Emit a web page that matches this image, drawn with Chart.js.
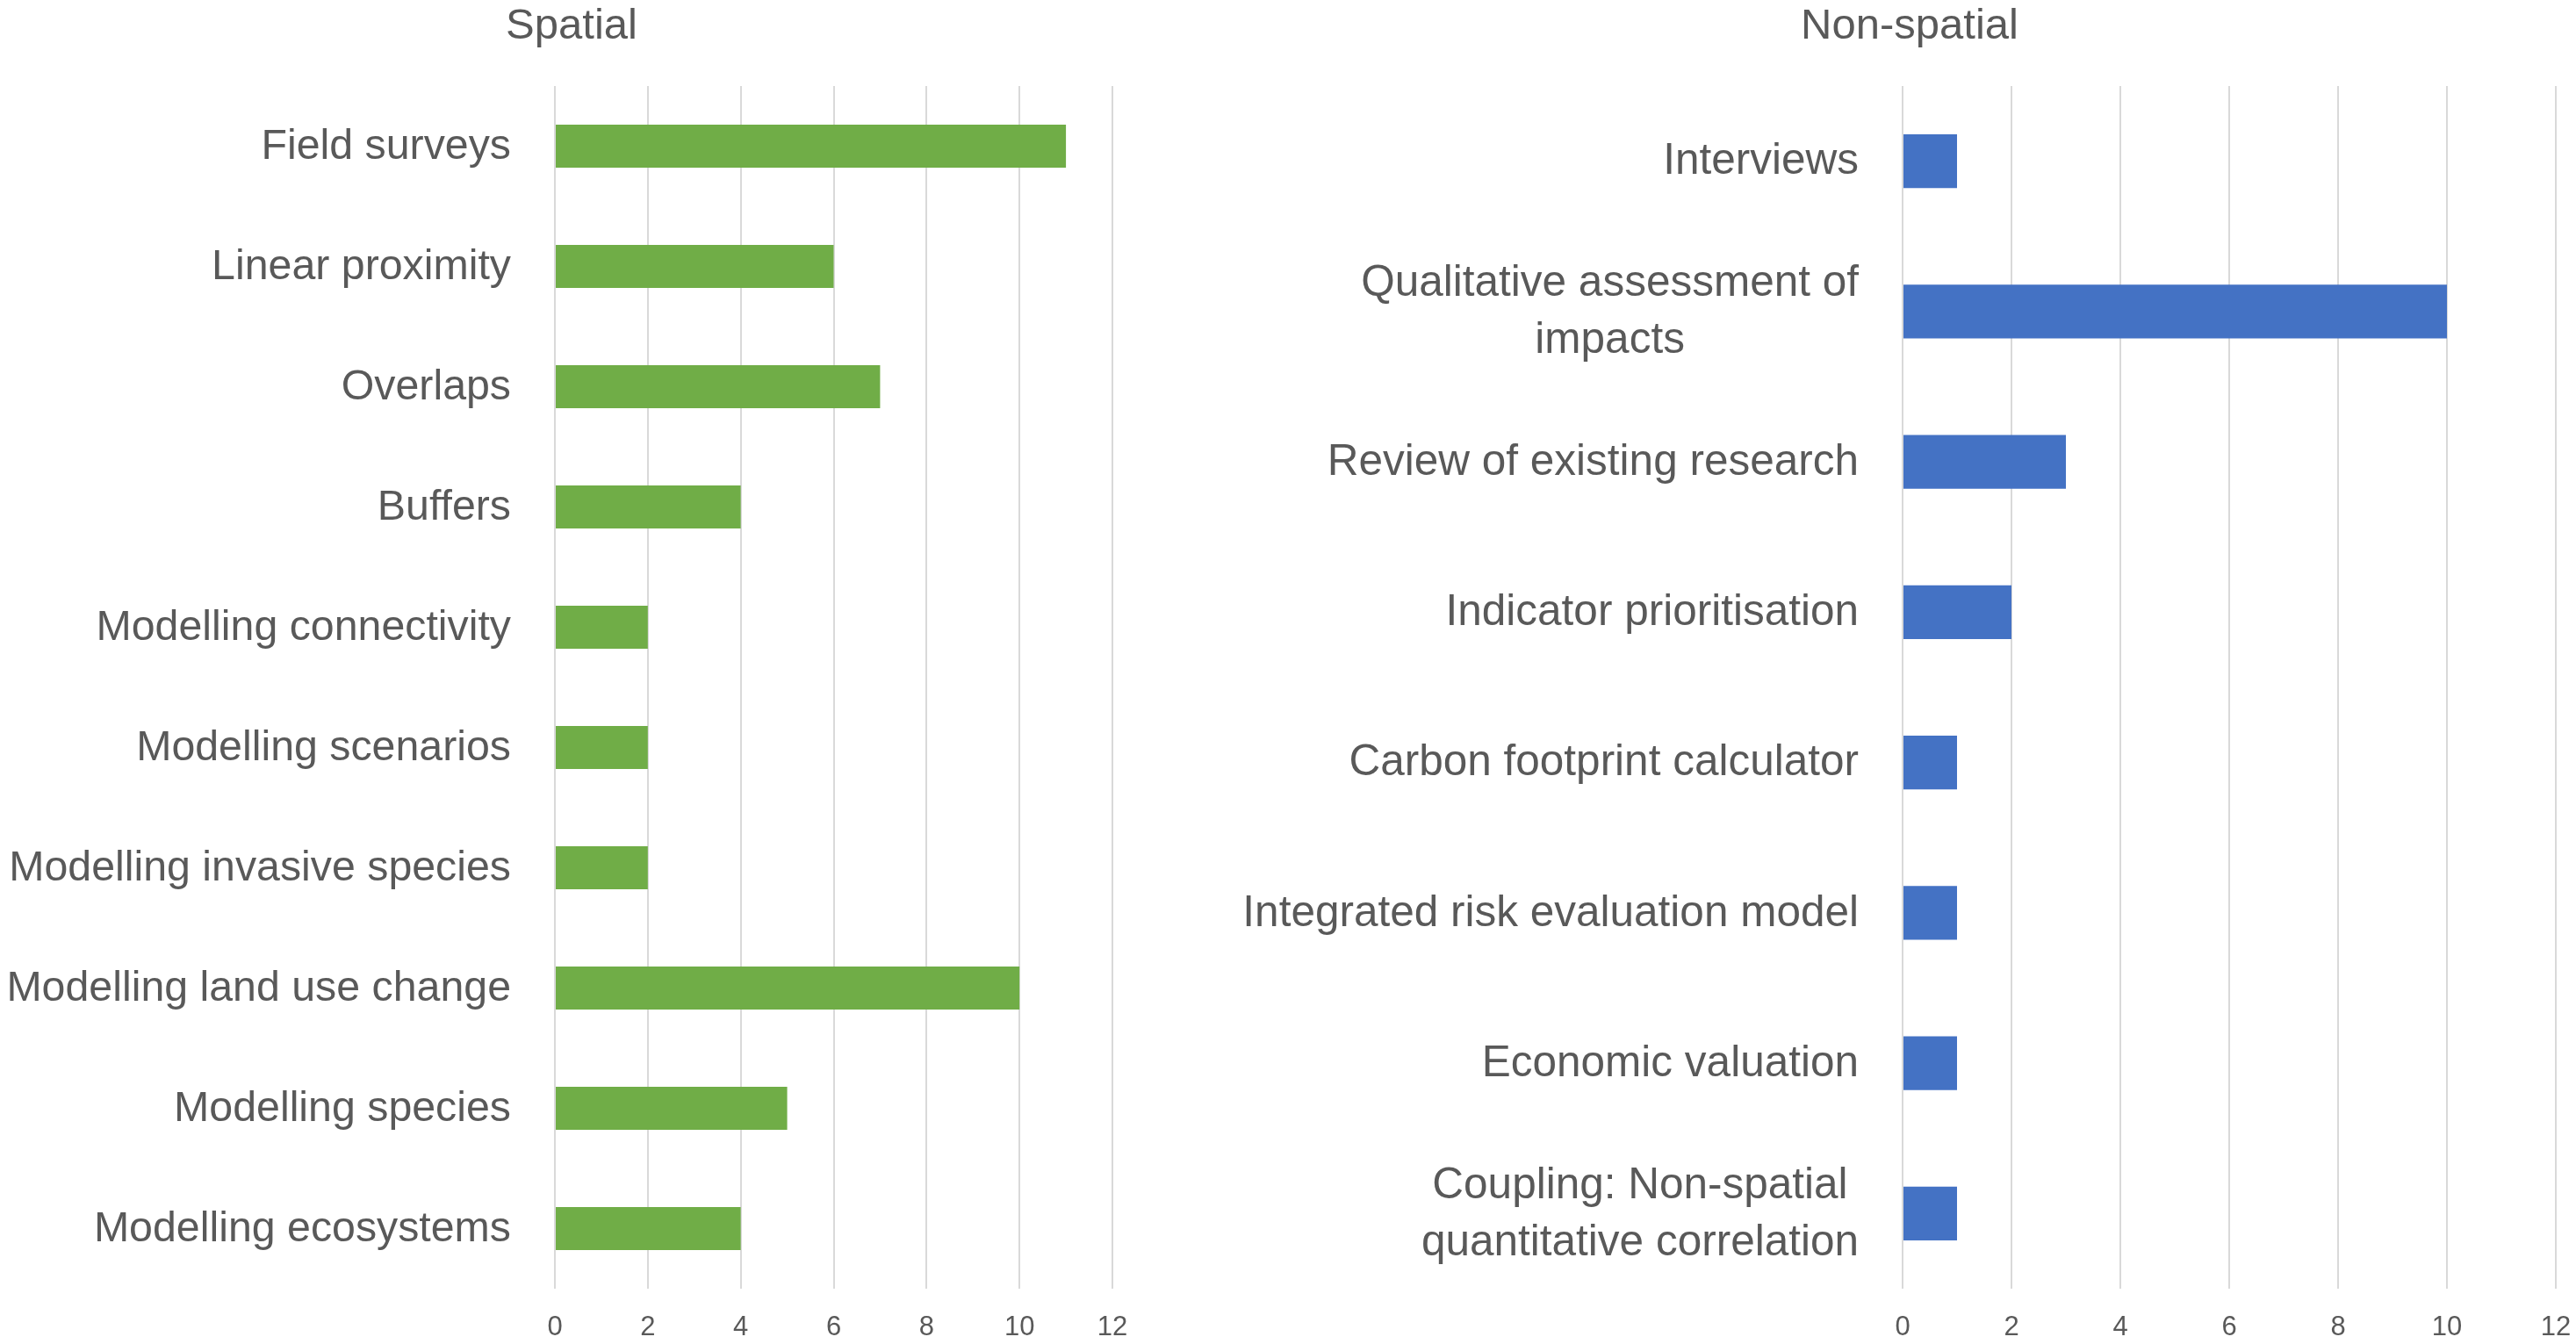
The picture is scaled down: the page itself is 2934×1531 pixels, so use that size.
<!DOCTYPE html>
<html><head><meta charset="utf-8">
<script src="https://cdn.jsdelivr.net/npm/chart.js@4.4.0/dist/chart.umd.min.js"></script>
<style>
html,body{margin:0;padding:0;background:#fff;overflow:hidden;width:2934px;height:1531px;}
canvas{position:absolute;top:0;}
</style></head><body>
<canvas id="left" width="1302" height="1531" style="left:0px;width:1302px;height:1531px"></canvas>
<canvas id="right" width="1534" height="1531" style="left:1400px;width:1534px;height:1531px"></canvas>
<script>
const spatialTitle = 'Spatial';
const spatialCategories = ['Field surveys','Linear proximity','Overlaps','Buffers','Modelling connectivity','Modelling scenarios','Modelling invasive species','Modelling land use change','Modelling species','Modelling ecosystems'];
const spatialValues = [11,6,7,4,2,2,2,10,5,4];

const nonSpatialTitle = 'Non-spatial';
const nonSpatialCategories = ['Interviews',['Qualitative assessment of','impacts'],'Review of existing research','Indicator prioritisation','Carbon footprint calculator','Integrated risk evaluation model','Economic valuation',['Coupling: Non-spatial','quantitative correlation']];
const nonSpatialValues = [1,10,3,2,1,1,1,1];

const xTickValues = [0,2,4,6,8,10,12];

const TEXT = '#595959';
const FONT = "'Liberation Sans', Arial, sans-serif";
const LABEL_LINE = 65;
const LABEL_GAP = 50;

const labelPlugin = {
  id: 'catLabels',
  afterDraw(chart, args, opts) {
    const ys = chart.scales.y;
    const ctx = chart.ctx;
    ctx.save();
    ctx.font = opts.size + 'px ' + FONT;
    ctx.fillStyle = TEXT;
    ctx.textAlign = 'center';
    ctx.textBaseline = 'middle';
    chart.data.labels.forEach((lab, i) => {
      const lines = Array.isArray(lab) ? lab : [lab];
      const maxW = Math.max(...lines.map(l => ctx.measureText(l).width));
      const cx = ys.right - LABEL_GAP - maxW / 2;
      const cy = ys.getPixelForValue(i) + 1;
      lines.forEach((l, j) => {
        ctx.fillText(l, cx, cy + (j - (lines.length - 1) / 2) * LABEL_LINE);
      });
    });
    ctx.restore();
  }
};

function makeChart(id, title, labels, values, color, padL, yWidth, padR, labelSize) {
  return new Chart(document.getElementById(id), {
    type: 'bar',
    data: {
      labels: labels,
      datasets: [{ data: values, backgroundColor: color, borderWidth: 0, barPercentage: 0.357, categoryPercentage: 1 }]
    },
    options: {
      indexAxis: 'y',
      responsive: false,
      devicePixelRatio: 1,
      animation: false,
      layout: { padding: { left: padL, right: padR, top: 0, bottom: 0 } },
      plugins: {
        legend: { display: false },
        tooltip: { enabled: false },
        catLabels: { size: labelSize },
        title: {
          display: true, text: title, color: TEXT,
          font: { family: FONT, size: 49, weight: 'normal', lineHeight: 1.2 },
          padding: { top: 1, bottom: 38.2 }
        }
      },
      scales: {
        x: {
          type: 'linear', position: 'bottom', min: 0, max: 12,
          afterBuildTicks: s => { s.ticks = xTickValues.map(v => ({ value: v })); },
          afterFit: s => { s.height = 63; s.paddingLeft = 0; s.paddingRight = 0; },
          grid: { color: '#d9d9d9', lineWidth: 2, drawTicks: false, tickLength: 0 },
          border: { display: false },
          ticks: { color: TEXT, padding: 26, font: { family: FONT, size: 31 } }
        },
        y: {
          type: 'category',
          afterFit: s => { s.width = yWidth; },
          grid: { display: false, drawTicks: false },
          border: { display: false },
          ticks: { display: false }
        }
      }
    },
    plugins: [labelPlugin]
  });
}

makeChart('left', spatialTitle, spatialCategories, spatialValues, '#70AD47', 35, 597, 35, 48.3);
makeChart('right', nonSpatialTitle, nonSpatialCategories, nonSpatialValues, '#4472C4', 39, 728, 23, 49.5);
</script>
</body></html>
